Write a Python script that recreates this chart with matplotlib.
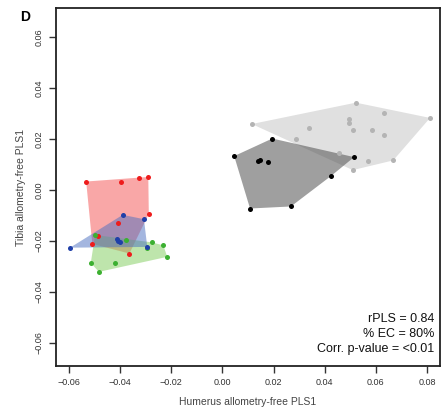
import matplotlib
matplotlib.use("Agg")
import matplotlib.pyplot as plt
import numpy as np

plt.rcParams['font.family'] = ['Liberation Sans', 'DejaVu Sans']

# ---- data ----
red_x = [-0.0533, -0.0398, -0.0326, -0.0290, -0.0288, -0.0410, -0.0488, -0.0509, -0.0364]
red_y = [0.0033, 0.0030, 0.0048, 0.0051, -0.0094, -0.0130, -0.0183, -0.0212, -0.0250]

blue_x = [-0.0390, -0.0307, -0.0596, -0.0413, -0.0407, -0.0401, -0.0294]
blue_y = [-0.0098, -0.0115, -0.0227, -0.0192, -0.0202, -0.0206, -0.0224]

green_x = [-0.0498, -0.0377, -0.0277, -0.0231, -0.0216, -0.0296, -0.0420, -0.0515, -0.0483]
green_y = [-0.0177, -0.0198, -0.0206, -0.0218, -0.0263, -0.0228, -0.0289, -0.0287, -0.0322]

black_x = [0.0195, 0.0046, 0.0140, 0.0147, 0.0177, 0.0515, 0.0425, 0.0268, 0.0108]
black_y = [0.0202, 0.0133, 0.0115, 0.0117, 0.0108, 0.0129, 0.0055, -0.0065, -0.0073]

lgrey_x = [0.0522, 0.0632, 0.0812, 0.0115, 0.0340, 0.0495, 0.0496, 0.0510, 0.0584,
           0.0633, 0.0287, 0.0456, 0.0571, 0.0668, 0.0510]
lgrey_y = [0.0343, 0.0302, 0.0283, 0.0259, 0.0244, 0.0277, 0.0263, 0.0237, 0.0235,
           0.0214, 0.0202, 0.0146, 0.0113, 0.0116, 0.0078]

xticks = [-0.06, -0.04, -0.02, 0.00, 0.02, 0.04, 0.06, 0.08]
yticks = [-0.06, -0.04, -0.02, 0.00, 0.02, 0.04, 0.06]
stats_lines = ["rPLS = 0.84", "% EC = 80%", "Corr. p-value = <0.01"]


def hull(xs, ys):
    pts = sorted(set(zip(xs, ys)))
    def cross(o, a, b):
        return (a[0]-o[0])*(b[1]-o[1]) - (a[1]-o[1])*(b[0]-o[0])
    lower, upper = [], []
    for p in pts:
        while len(lower) >= 2 and cross(lower[-2], lower[-1], p) <= 0:
            lower.pop()
        lower.append(p)
    for p in reversed(pts):
        while len(upper) >= 2 and cross(upper[-2], upper[-1], p) <= 0:
            upper.pop()
        upper.append(p)
    h = lower[:-1] + upper[:-1]
    return np.array(h)


fig = plt.figure(figsize=(4.42, 4.13), dpi=100)
ax = fig.add_axes([56/442, 1-366/413, (440-56)/442, (366-8)/413])

groups = [
    (lgrey_x, lgrey_y, '#e0e0e0', 1.0, '#b4b4b4'),
    (black_x, black_y, '#505050', 0.55, '#000000'),
    (red_x, red_y, '#f45050', 0.5, '#ee1c1c'),
    (green_x, green_y, '#7fcc5a', 0.5, '#3cb031'),
    (blue_x, blue_y, '#4a6fc0', 0.5, '#1f3fa8'),
]
for xs, ys, fc, a, pc in groups:
    h = hull(xs, ys)
    ax.fill(h[:, 0], h[:, 1], facecolor=fc, alpha=a, edgecolor='none', zorder=1)
for xs, ys, fc, a, pc in groups:
    ax.scatter(xs, ys, s=13, color=pc, zorder=3, linewidths=0)

ax.set_xlim(-0.0651, 0.0851)
ax.set_ylim(-0.0692, 0.0715)
ax.set_xticks(xticks)
ax.set_xticklabels([f"{v:.2f}".replace('-', '\u2212') for v in xticks])
ax.set_yticks(yticks)
ax.set_yticklabels([f"{v:.2f}".replace('-', '\u2212') for v in yticks], rotation=90, va='center')
ax.tick_params(axis='both', direction='out', length=5, width=1, labelsize=6.5,
               colors='#333333', pad=4)
ax.tick_params(axis='x', pad=3.5)
for s in ax.spines.values():
    s.set_linewidth(1.3)
    s.set_color('#222222')

ax.set_xlabel("Humerus allometry-free PLS1", fontsize=7.5, color='#444444', labelpad=7)
ax.set_ylabel("Tibia allometry-free PLS1", fontsize=7.5, color='#444444', labelpad=6)

ax.text(0.985, 0.03, "\n".join(stats_lines), transform=ax.transAxes, ha='right', va='bottom',
        fontsize=9, linespacing=1.35, color='#111111')

fig.text(20/442, 1-17/413, "D", fontsize=10, fontweight='bold', ha='left', va='center')

fig.savefig("out.png", dpi=100)
